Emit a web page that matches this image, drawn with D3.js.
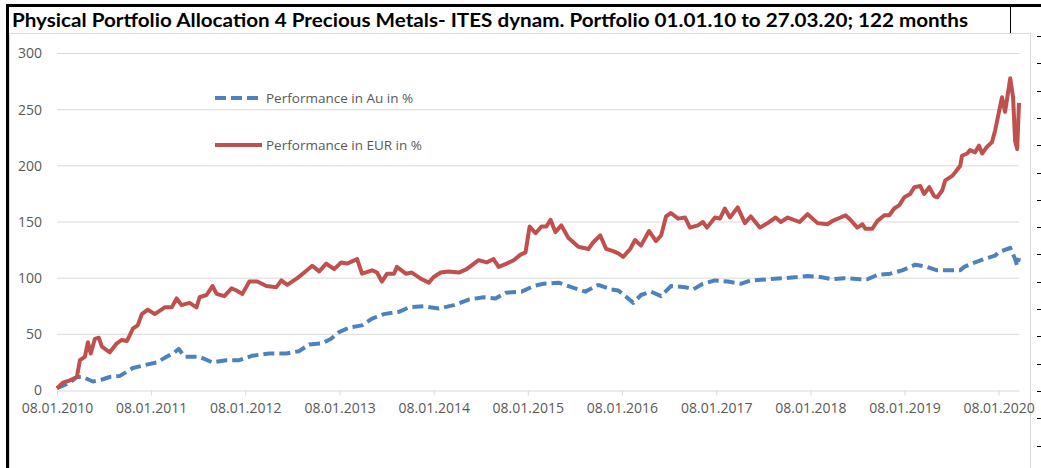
<!DOCTYPE html>
<html>
<head>
<meta charset="utf-8">
<script src="https://cdn.jsdelivr.net/npm/d3@7"></script>
<style>
  body { margin: 0; background: #fff; }
  svg { display: block; }
</style>
</head>
<body>
<svg id="chart" width="1041" height="468"></svg>
<script>

var TITLE = "Physical Portfolio Allocation 4 Precious Metals- ITES dynam. Portfolio 01.01.10 to 27.03.20; 122 months";

var seriesNames = ["Performance in Au in %", "Performance in EUR in %"];

var yTicks = [0, 50, 100, 150, 200, 250, 300];
var xTickLabels = ["08.01.2010", "08.01.2011", "08.01.2012", "08.01.2013", "08.01.2014", "08.01.2015",
    "08.01.2016", "08.01.2017", "08.01.2018", "08.01.2019", "08.01.2020"];

// Au line (blue, dashed)
var auDates = ["2010-01-08", "2010-02-27", "2010-03-26", "2010-04-18", "2010-05-27", "2010-07-05", "2010-08-01",
    "2010-09-09", "2010-10-29", "2010-12-22", "2011-01-30", "2011-03-09", "2011-04-09", "2011-04-25", "2011-05-18",
    "2011-07-15", "2011-09-03", "2011-10-27", "2011-12-16", "2012-02-05", "2012-04-10", "2012-06-15", "2012-08-04",
    "2012-09-12", "2012-11-01", "2012-12-06", "2013-01-06", "2013-02-14", "2013-04-05", "2013-05-14", "2013-06-29",
    "2013-08-26", "2013-10-04", "2013-12-01", "2014-01-28", "2014-03-27", "2014-05-24", "2014-07-21", "2014-09-05",
    "2014-10-14", "2014-12-15", "2015-01-30", "2015-03-10", "2015-05-07", "2015-06-26", "2015-08-19", "2015-10-08",
    "2015-11-28", "2015-12-25", "2016-01-21", "2016-02-21", "2016-03-22", "2016-04-30", "2016-06-08", "2016-07-16",
    "2016-09-09", "2016-10-10", "2016-11-17", "2017-01-03", "2017-02-22", "2017-04-13", "2017-05-22", "2017-07-26",
    "2017-09-30", "2017-11-19", "2017-12-28", "2018-02-16", "2018-04-04", "2018-05-20", "2018-07-21", "2018-08-17",
    "2018-09-25", "2018-11-14", "2018-12-30", "2019-02-19", "2019-04-06", "2019-05-15", "2019-07-04", "2019-08-12",
    "2019-08-27", "2019-09-27", "2019-11-12", "2019-12-25", "2020-01-08", "2020-02-22", "2020-03-12", "2020-03-20",
    "2020-03-27"];
var auValues = [2, 7, 12, 12, 8, 10, 12,
    13, 20, 23, 25, 30, 34, 37, 30,
    30, 25, 27, 27, 31, 33, 33, 35,
    41, 42, 46, 52, 56, 58, 64, 68,
    70, 74, 75, 73, 76, 81, 83, 82,
    87, 88, 93, 95, 96, 92, 88, 94,
    90, 89, 84, 78, 85, 88, 84, 93,
    92, 90, 95, 98, 97, 95, 98, 99,
    100, 101, 102, 101, 99, 100, 99, 99,
    103, 104, 107, 112, 110, 107, 107, 107,
    110, 113, 117, 120, 123, 127, 117, 111,
    118];

// EUR line (red, solid)
var eurDates = ["2010-01-08", "2010-01-31", "2010-02-27", "2010-03-26", "2010-04-07", "2010-04-26", "2010-05-08",
    "2010-05-19", "2010-06-04", "2010-06-19", "2010-07-01", "2010-08-01", "2010-08-28", "2010-09-16", "2010-10-06",
    "2010-10-17", "2010-10-29", "2010-11-17", "2010-12-03", "2010-12-26", "2011-01-22", "2011-03-02", "2011-03-29",
    "2011-04-17", "2011-05-06", "2011-06-06", "2011-07-03", "2011-07-15", "2011-08-11", "2011-09-03", "2011-09-19",
    "2011-10-19", "2011-11-16", "2011-12-05", "2011-12-28", "2012-01-24", "2012-02-24", "2012-03-30", "2012-05-08",
    "2012-05-27", "2012-06-19", "2012-07-28", "2012-08-24", "2012-09-24", "2012-10-21", "2012-11-17", "2012-12-18",
    "2013-01-14", "2013-02-06", "2013-03-17", "2013-04-05", "2013-05-14", "2013-06-02", "2013-06-21", "2013-07-11",
    "2013-08-07", "2013-08-18", "2013-09-22", "2013-10-15", "2013-11-23", "2013-12-20", "2014-01-08", "2014-02-04",
    "2014-03-07", "2014-04-15", "2014-05-16", "2014-07-01", "2014-08-01", "2014-08-28", "2014-09-17", "2014-10-18",
    "2014-11-14", "2014-12-11", "2014-12-30", "2015-01-15", "2015-02-07", "2015-03-02", "2015-03-21", "2015-04-06",
    "2015-04-25", "2015-05-18", "2015-06-14", "2015-07-23", "2015-08-31", "2015-09-19", "2015-10-16", "2015-11-08",
    "2015-12-05", "2015-12-25", "2016-01-13", "2016-02-09", "2016-02-28", "2016-03-22", "2016-04-22", "2016-05-19",
    "2016-06-08", "2016-06-27", "2016-07-16", "2016-08-13", "2016-09-09", "2016-09-28", "2016-10-29", "2016-11-17",
    "2016-12-03", "2017-01-03", "2017-01-22", "2017-02-10", "2017-03-02", "2017-04-01", "2017-04-29", "2017-05-22",
    "2017-06-26", "2017-07-26", "2017-08-26", "2017-09-15", "2017-10-12", "2017-11-27", "2017-12-28", "2018-02-05",
    "2018-03-15", "2018-04-04", "2018-05-05", "2018-05-24", "2018-06-12", "2018-07-09", "2018-07-29", "2018-08-09",
    "2018-09-05", "2018-09-25", "2018-10-22", "2018-11-10", "2018-11-29", "2018-12-19", "2019-01-07", "2019-01-30",
    "2019-02-15", "2019-03-10", "2019-03-25", "2019-04-14", "2019-05-03", "2019-05-15", "2019-06-03", "2019-06-15",
    "2019-07-12", "2019-07-23", "2019-08-12", "2019-08-19", "2019-09-08", "2019-09-19", "2019-10-09", "2019-10-24",
    "2019-11-05", "2019-11-24", "2019-12-13", "2019-12-25", "2020-01-21", "2020-02-02", "2020-02-22", "2020-03-04",
    "2020-03-12", "2020-03-20", "2020-03-27"];
var eurValues = [2, 7, 9, 12, 27, 30, 43,
    33, 46, 47, 39, 34, 42, 45, 44,
    49, 55, 58, 68, 72, 68, 74, 74,
    82, 76, 78, 74, 83, 85, 93, 86,
    84, 91, 89, 86, 97, 97, 93, 92,
    98, 94, 100, 105, 111, 106, 113, 108,
    114, 113, 117, 104, 107, 105, 97, 104,
    104, 110, 104, 105, 99, 96, 101, 105,
    106, 105, 108, 116, 114, 117, 110, 113,
    116, 121, 123, 146, 140, 146, 146, 152,
    141, 147, 136, 128, 126, 132, 138, 126,
    124, 122, 119, 126, 134, 129, 142, 133,
    138, 155, 158, 153, 154, 145, 147, 150,
    145, 154, 153, 162, 154, 163, 149, 155,
    145, 149, 154, 150, 154, 150, 157, 149,
    148, 151, 154, 156, 152, 145, 148, 144,
    144, 151, 156, 156, 162, 165, 172, 175,
    181, 182, 175, 181, 173, 172, 178, 187,
    191, 194, 200, 209, 211, 214, 212, 218,
    211, 217, 221, 231, 261, 248, 278, 261,
    222, 215, 256];

var parseIso = d3.timeParse("%Y-%m-%d");
var parseTick = d3.timeParse("%d.%m.%Y");

function toPoints(dates, values) {
    return dates.map(function (d, i) { return { date: parseIso(d), value: values[i] }; });
}

var auData = toPoints(auDates, auValues);
var eurData = toPoints(eurDates, eurValues);

var svg = d3.select("#chart");

svg.append("rect").attr("width", 1041).attr("height", 468).attr("fill", "#fff");

// spreadsheet frame around the chart
svg.append("line").attr("x1", 6).attr("x2", 1041).attr("y1", 5.5).attr("y2", 5.5)
    .attr("stroke", "#000").attr("stroke-width", 3);
svg.append("line").attr("x1", 7.5).attr("x2", 7.5).attr("y1", 4).attr("y2", 468)
    .attr("stroke", "#000").attr("stroke-width", 3);
svg.append("line").attr("x1", 1010.5).attr("x2", 1010.5).attr("y1", 6).attr("y2", 33)
    .attr("stroke", "#000").attr("stroke-width", 1);

// chart area border
svg.append("rect").attr("x", 9.5).attr("y", 33.5).attr("width", 1021).attr("height", 440)
    .attr("fill", "none").attr("stroke", "#d9d9d9");

// row markers of the neighbouring column
var rowMarks = d3.range(36, 468, 27.3);
svg.append("g").selectAll("line").data(rowMarks).enter().append("line")
    .attr("x1", 1037).attr("x2", 1041)
    .attr("y1", function (d) { return Math.round(d) + 0.5; })
    .attr("y2", function (d) { return Math.round(d) + 0.5; })
    .attr("stroke", "#000");

svg.append("text")
    .attr("x", 12).attr("y", 27)
    .attr("font-family", "Lato, 'Open Sans', sans-serif")
    .attr("font-weight", "bold")
    .attr("font-size", 18)
    .attr("textLength", 956)
    .attr("lengthAdjust", "spacingAndGlyphs")
    .attr("fill", "#000")
    .text(TITLE);

var margin = { top: 53.5, left: 57, right: 1019, bottom: 390.5 };

var x = d3.scaleTime()
    .domain([parseIso("2010-01-08"), parseIso("2020-03-27")])
    .range([margin.left, margin.right]);
var y = d3.scaleLinear().domain([0, 300]).range([margin.bottom, margin.top]);

// gridlines
svg.append("g").selectAll("line").data(yTicks.slice(1)).enter().append("line")
    .attr("x1", margin.left).attr("x2", margin.right)
    .attr("y1", function (d) { return y(d); }).attr("y2", function (d) { return y(d); })
    .attr("stroke", "#d9d9d9").attr("stroke-width", 1);

// y axis labels
var yAxis = svg.append("g")
    .attr("transform", "translate(" + margin.left + ",0)")
    .call(d3.axisLeft(y).tickValues(yTicks).tickSize(0).tickPadding(15));
yAxis.select(".domain").remove();
yAxis.selectAll("text")
    .attr("font-family", "'Open Sans', sans-serif")
    .attr("font-size", 14)
    .attr("fill", "#595959");

// x axis
var xAxis = svg.append("g")
    .attr("transform", "translate(0," + margin.bottom + ")")
    .call(d3.axisBottom(x)
        .tickValues(xTickLabels.map(parseTick))
        .tickFormat(d3.timeFormat("%d.%m.%Y"))
        .tickSizeInner(5).tickSizeOuter(0).tickPadding(8));
xAxis.select(".domain").attr("stroke", "#d9d9d9");
xAxis.selectAll(".tick line").attr("stroke", "#d9d9d9");
xAxis.selectAll("text")
    .attr("font-family", "'Open Sans', sans-serif")
    .attr("font-size", 14)
    .attr("fill", "#595959");

var line = d3.line()
    .x(function (d) { return x(d.date); })
    .y(function (d) { return y(d.value); });

svg.append("path").datum(auData)
    .attr("d", line)
    .attr("fill", "none")
    .attr("stroke", "#4f81bd")
    .attr("stroke-width", 4)
    .attr("stroke-dasharray", "11,5")
    .attr("stroke-linejoin", "round");

svg.append("path").datum(eurData)
    .attr("d", line)
    .attr("fill", "none")
    .attr("stroke", "#c0504d")
    .attr("stroke-width", 4)
    .attr("stroke-linejoin", "round");

// legend
var legend = svg.append("g").selectAll("g")
    .data(seriesNames)
    .enter().append("g")
    .attr("transform", function (d, i) { return "translate(215," + (98 + i * 47) + ")"; });

legend.append("line")
    .attr("x1", 0).attr("x2", function (d, i) { return i === 0 ? 43 : 47; })
    .attr("stroke", function (d, i) { return i === 0 ? "#4f81bd" : "#c0504d"; })
    .attr("stroke-width", 4)
    .attr("stroke-dasharray", function (d, i) { return i === 0 ? "11,5" : null; });

legend.append("text")
    .attr("x", 51)
    .attr("dy", "0.35em")
    .attr("font-family", "'Open Sans', sans-serif")
    .attr("font-size", 13.5)
    .attr("fill", "#595959")
    .text(function (d) { return d; });

</script>
</body>
</html>
